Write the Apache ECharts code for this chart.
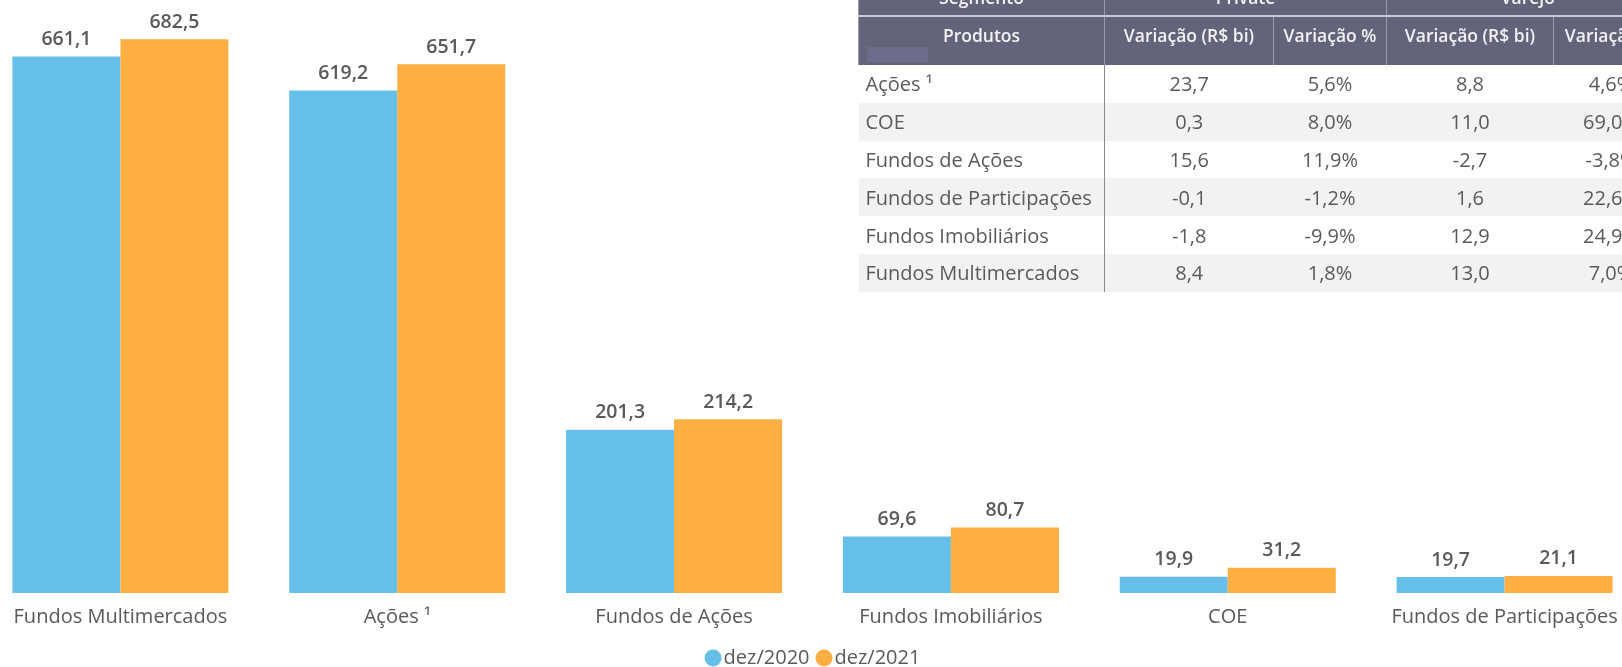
<!DOCTYPE html>
<html lang="pt">
<head>
	<meta charset="UTF-8">
	<title>Produtos dez/2020 x dez/2021</title>
	<style>
		html, body { margin: 0; padding: 0; background: #fff; overflow: hidden; width: 1622px; height: 667px; }
		#bar_one { position: absolute; left: -18px; top: 0; width: 1661px; height: 667px; }
		#tabela { position: absolute; left: 858px; top: -20px; width: 810px; border-collapse: collapse; font-family: "Open Sans", sans-serif; table-layout: fixed; }
		#tabela th { background: #626479; color: #f2f2f5; font-weight: 600; font-size: 17.5px; text-align: center; padding: 0; white-space: nowrap; overflow: hidden; }
		#tabela tr.h1 th { height: 35px; border-bottom: 2px solid #c9cad3; border-left: 1px solid #9a9bab; line-height: 35px; }
		#tabela tr.h2 th { height: 48px; border-left: 1px solid #9a9bab; vertical-align: top; line-height: 36px; }
		#tabela th:first-child { border-left: none; }
		#tabela td { height: 37.8px; padding: 0; font-size: 20px; color: #5a5a5a; text-align: center; white-space: nowrap; overflow: hidden; }
		#tabela td:first-child { text-align: left; padding-left: 7px; border-right: 1.5px solid #8a8a8a; }
		#tabela tr.cinza td { background: #f2f2f2; }
		#marca { position: absolute; left: 867px; top: 47px; width: 61px; height: 15px; background: #6b6d8b; }
	</style>
</head>
<body>
	<div id="bar_one"></div>
	<table id="tabela">
		<colgroup>
			<col style="width:246px"><col style="width:169px"><col style="width:113px"><col style="width:167px"><col style="width:115px">
		</colgroup>
		<thead>
			<tr class="h1"><th>Segmento</th><th colspan="2">Private</th><th colspan="2">Varejo</th></tr>
			<tr class="h2"><th>Produtos</th><th>Variação (R$ bi)</th><th>Variação %</th><th>Variação (R$ bi)</th><th>Variação %</th></tr>
		</thead>
		<tbody id="corpo"></tbody>
	</table>
	<div id="marca"></div>
</body>
</html>
<script src="https://cdn.jsdelivr.net/npm/echarts@6/dist/echarts.min.js"></script>
<script>
	// grafico
	var categorias = ['Fundos Multimercados', 'Ações ¹', 'Fundos de Ações', 'Fundos Imobiliários', 'COE', 'Fundos de Participações'];
	var dez2020 = [661.1, 619.2, 201.3, 69.6, 19.9, 19.7];
	var dez2021 = [682.5, 651.7, 214.2, 80.7, 31.2, 21.1];
	var legendas = ['dez/2020', 'dez/2021'];

	// tabela
	var produtos = ['Ações ¹', 'COE', 'Fundos de Ações', 'Fundos de Participações', 'Fundos Imobiliários', 'Fundos Multimercados'];
	var privateVar = ['23,7', '0,3', '15,6', '-0,1', '-1,8', '8,4'];
	var privatePct = ['5,6%', '8,0%', '11,9%', '-1,2%', '-9,9%', '1,8%'];
	var varejoVar = ['8,8', '11,0', '-2,7', '1,6', '12,9', '13,0'];
	var varejoPct = ['4,6%', '69,0%', '-3,8%', '22,6%', '24,9%', '7,0%'];

	var html = '';
	for (var i = 0; i < produtos.length; i++) {
		html += '<tr' + (i % 2 == 1 ? ' class="cinza"' : '') + '><td>' + produtos[i] + '</td><td>' + privateVar[i] + '</td><td>' + privatePct[i] + '</td><td>' + varejoVar[i] + '</td><td>' + varejoPct[i] + '</td></tr>';
	}
	document.getElementById('corpo').innerHTML = html;

	function virgula(p) {
		return p.value.toFixed(1).replace('.', ',');
	}

	var myChart = echarts.init(document.getElementById('bar_one'));
	var rotulo = {
		show: true,
		position: 'top',
		distance: 7,
		color: '#595959',
		fontSize: 19.5,
		fontWeight: 600,
		fontFamily: 'Open Sans',
		formatter: virgula
	};
	var option = {
		animation: false,
		color: ['#65bfe8', '#fdaf44'],
		legend: {
			data: legendas,
			left: 'center',
			top: 643,
			icon: 'circle',
			itemWidth: 17,
			itemHeight: 17,
			itemGap: 6,
			textStyle: { color: '#595959', fontSize: 20, fontFamily: 'Open Sans', padding: [0, 0, 0, -3] }
		},
		grid: {
			left: 0,
			right: 0,
			top: 25,
			bottom: 74,
			containLabel: false
		},
		xAxis: {
			type: 'category',
			data: categorias,
			axisTick: { show: false },
			axisLine: { show: false },
			axisLabel: {
				color: '#595959',
				fontSize: 20,
				fontFamily: 'Open Sans',
				margin: 14,
				interval: 0
			}
		},
		yAxis: {
			type: 'value',
			min: 0,
			max: 700,
			show: false,
			splitLine: { show: false }
		},
		series: [
			{
				name: legendas[0],
				type: 'bar',
				barWidth: 108,
				barGap: '0%',
				data: dez2020,
				label: rotulo
			},
			{
				name: legendas[1],
				type: 'bar',
				barWidth: 108,
				barGap: '0%',
				data: dez2021,
				label: rotulo
			}
		]
	};
	myChart.setOption(option);
</script>
